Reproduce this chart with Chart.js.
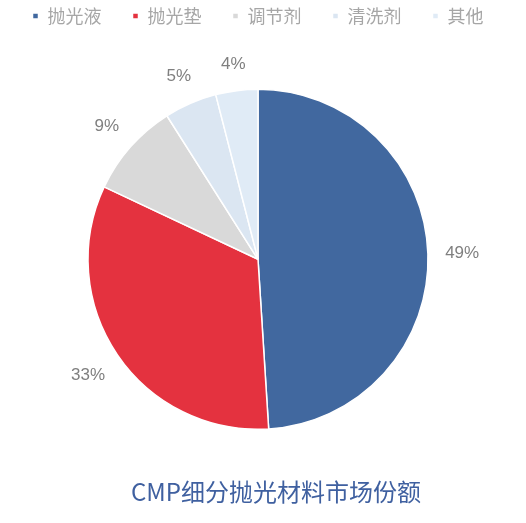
<!DOCTYPE html>
<html>
<head>
<meta charset="utf-8">
<script src="https://cdn.jsdelivr.net/npm/chart.js@4"></script>
<style>
  html, body { margin: 0; padding: 0; background: #fff; }
  #wrap { width: 526px; height: 523px; }
</style>
</head>
<body>
<div id="wrap"><canvas id="myChart"></canvas></div>
<script>
const categories = ['抛光液', '抛光垫', '调节剂', '清洗剂', '其他'];
const shares = [49, 33, 9, 5, 4];
const colors = ['#41689f', '#e4323f', '#d9d9d9', '#dbe6f2', '#e0ebf6'];

// percent labels just outside each slice
const outsideLabels = {
  id: 'outsideLabels',
  afterDatasetsDraw(chart) {
    const ctx = chart.ctx;
    const meta = chart.getDatasetMeta(0);
    ctx.save();
    ctx.font = '17px "Liberation Sans", Arial, sans-serif';
    ctx.fillStyle = '#7f7f7f';
    ctx.textAlign = 'center';
    ctx.textBaseline = 'middle';
    meta.data.forEach((arc, i) => {
      const txt = shares[i] + '%';
      const mid = (arc.startAngle + arc.endAngle) / 2;
      const cx = Math.cos(mid), cy = Math.sin(mid);
      const hw = ctx.measureText(txt).width / 2;
      const r = arc.outerRadius + 17 + hw * Math.abs(cx) + 8 * Math.abs(cy);
      ctx.fillText(txt, arc.x + cx * r, arc.y + cy * r);
    });
    ctx.restore();
  }
};

// title sits a bit right of the pie in the original
const nudgeTitle = {
  id: 'nudgeTitle',
  afterLayout(chart) {
    if (chart.titleBlock) {
      chart.titleBlock.left += 18;
      chart.titleBlock.right += 18;
    }
  }
};

const poke = document.getElementById('myChart');

new Chart(poke, {
  type: 'pie',
  data: {
    labels: categories,
    datasets: [{
      data: shares,
      backgroundColor: colors,
      borderColor: '#ffffff',
      borderWidth: 1.5,
      radius: 170
    }]
  },
  options: {
    responsive: true,
    maintainAspectRatio: false,
    animation: false,
    layout: {
      padding: { top: -24, bottom: 0, left: 0, right: 10 }
    },
    plugins: {
      legend: {
        position: 'top',
        labels: {
          boxWidth: 6,
          boxHeight: 6,
          padding: 31,
          color: '#a6a6a6',
          font: { size: 18, family: '"Noto Sans CJK SC", sans-serif' }
        }
      },
      title: {
        display: true,
        position: 'bottom',
        text: 'CMP细分抛光材料市场份额',
        color: '#3f60a0',
        font: { size: 24, weight: 'normal', family: '"Noto Sans CJK SC", sans-serif' },
        padding: { top: -6, bottom: 16.6 }
      },
      tooltip: { enabled: false }
    }
  },
  plugins: [outsideLabels, nudgeTitle]
});
</script>
</body>
</html>
